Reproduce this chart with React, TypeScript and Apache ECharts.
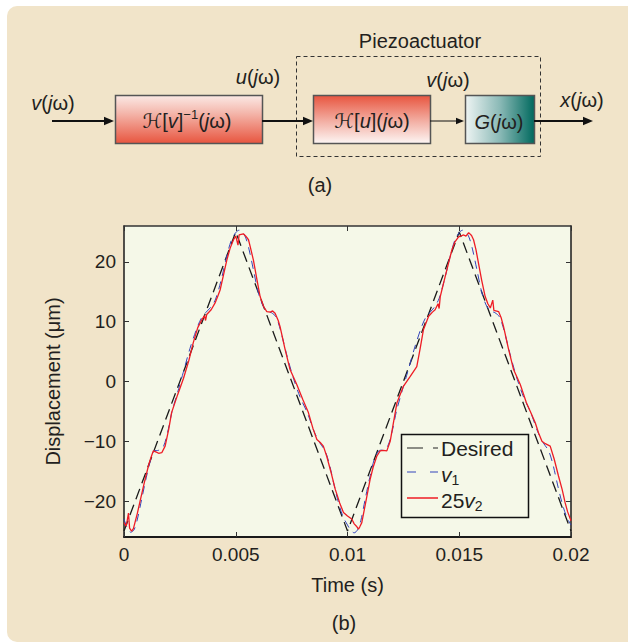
import React, { useEffect, useRef } from "react";
import * as echarts from "echarts";

const FONT = '"Liberation Sans", Arial, Helvetica, sans-serif';
const INK = "#231f20";

// x axis ticks (s)
const xTicks = [0, 0.005, 0.01, 0.015, 0.02];
const yTicks = [-20, -10, 0, 10, 20];

// Desired triangle reference (time in ms, displacement in µm)
const desiredT = [0, 5, 10, 15, 20];
const desiredY = [-25, 25, -25, 25, -25];

// v1 (blue dashed)
const v1T = [0, 0.15, 0.3, 0.45, 0.6, 0.8, 1.0, 1.2, 1.35, 1.55, 1.75, 1.95, 2.15, 2.4, 2.65, 2.95, 3.25, 3.45, 3.65, 3.9, 4.1, 4.35, 4.6, 4.8, 5.0, 5.15, 5.3, 5.45, 5.6, 5.8, 6.0, 6.2, 6.4, 6.6, 6.8, 7.0, 7.3, 7.6, 7.9, 8.2, 8.5, 8.75, 9.0, 9.2, 9.4, 9.6, 9.8, 10.0, 10.15, 10.3, 10.45, 10.6, 10.8, 11.0, 11.2, 11.4, 11.6, 11.8, 12.0, 12.2, 12.45, 12.7, 13.0, 13.3, 13.5, 13.7, 13.9, 14.1, 14.35, 14.6, 14.8, 15.0, 15.15, 15.3, 15.45, 15.6, 15.8, 16.0, 16.2, 16.4, 16.6, 16.8, 17.0, 17.3, 17.6, 17.9, 18.2, 18.5, 18.75, 19.0, 19.2, 19.4, 19.6, 19.8, 20.0];
const v1Y = [-23, -24.5, -25.2, -24.8, -23, -19.5, -16, -13, -11.6, -11.5, -11, -8.5, -5, -1.8, 1.5, 5.5, 8.8, 10.5, 11.5, 12.5, 13.8, 17, 21, 23.6, 24.9, 25.3, 25.0, 24.0, 22, 18.5, 15, 12.8, 11.8, 11.5, 10.8, 8.6, 4.2, 0.3, -2.8, -5.2, -8.3, -10.2, -11.6, -14, -17.3, -20.3, -22.6, -24, -24.9, -25.3, -24.8, -23.2, -19.5, -16, -13, -11.6, -11.4, -10.8, -8.3, -4.8, -1.5, 1.7, 5.6, 9, 10.7, 11.6, 12.5, 13.9, 17.2, 21, 23.6, 24.9, 25.3, 25.0, 24.0, 22, 18.5, 15, 12.8, 11.8, 11.5, 10.8, 8.6, 4.2, 0.3, -2.8, -5.2, -8.3, -10.2, -11.6, -14, -17.3, -20.3, -22.6, -24];

// 25 v2 (red solid)
const v2T = [0, 0.1, 0.2, 0.25, 0.34, 0.42, 0.49, 0.6, 0.75, 0.94, 1.1, 1.2, 1.31, 1.45, 1.55, 1.69, 1.84, 2.0, 2.13, 2.4, 2.66, 2.9, 3.1, 3.3, 3.48, 3.6, 3.65, 3.7, 3.9, 4.07, 4.2, 4.3, 4.45, 4.6, 4.75, 4.9, 5.0, 5.1, 5.15, 5.34, 5.45, 5.57, 5.65, 5.79, 5.95, 6.09, 6.25, 6.39, 6.55, 6.65, 6.76, 6.9, 6.98, 7.2, 7.43, 7.73, 8.0, 8.25, 8.45, 8.63, 8.78, 8.92, 9.07, 9.25, 9.45, 9.65, 9.82, 10.0, 10.19, 10.3, 10.4, 10.49, 10.55, 10.64, 10.8, 11.01, 11.15, 11.31, 11.46, 11.6, 11.76, 11.91, 12.05, 12.21, 12.5, 12.8, 13.1, 13.25, 13.4, 13.63, 13.8, 13.92, 14.05, 14.1, 14.15, 14.4, 14.67, 14.8, 14.97, 15.2, 15.3, 15.42, 15.55, 15.64, 15.75, 15.86, 16.0, 16.16, 16.28, 16.39, 16.5, 16.55, 16.76, 16.88, 16.98, 17.2, 17.43, 17.73, 18.0, 18.2, 18.4, 18.55, 18.7, 18.85, 19.07, 19.25, 19.44, 19.6, 19.74, 19.85, 19.97, 20.0];
const v2Y = [-23.6, -24.2, -22.0, -24.5, -25, -24.6, -23.6, -22, -19.5, -16.4, -14, -12.8, -11.6, -11.8, -12, -11.9, -10.8, -8, -5.2, -2.2, 0.5, 3.5, 6.5, 9, 10.3, 11, 10.2, 11.2, 12, 13.1, 14.3, 15.3, 17.8, 20.3, 22.3, 23.7, 24.3, 22.8, 24.5, 24.7, 24.3, 23.7, 22.5, 20.3, 17, 14.2, 12.5, 11.7, 11.6, 11.8, 11.4, 10.2, 9.2, 5.5, 2.0, -0.5, -3, -5.2, -7.8, -9.7, -10.2, -10.8, -12.5, -15, -18, -20.3, -21.9, -22.5, -23, -23.8, -24.2, -24.7, -24.3, -23.6, -20.5, -16.4, -14.3, -12.5, -11.6, -11.5, -11.6, -10, -7, -3.6, -0.8, 0.8, 2.5, 5.5, 8.7, 10.9, 11.6, 12, 13, 12.2, 14.2, 18, 22, 23.3, 24.2, 24.5, 24.3, 24.9, 24.4, 23.7, 22, 19.8, 17, 14.2, 13, 12.3, 13.6, 11.9, 11.7, 10.6, 9.2, 5.5, 2.0, -0.5, -3.5, -5.2, -6.9, -8.6, -10, -10.4, -10.8, -13, -15.8, -18, -20.3, -21.8, -23, -23.3];

const toPairs = (t: number[], y: number[]) => t.map((v, i) => [v / 1000, y[i]]);

const FS = 20;
const rich = {
  n: { fontFamily: FONT, fontSize: FS, color: INK, lineHeight: 26, verticalAlign: "middle" },
  i: { fontFamily: FONT, fontSize: FS, color: INK, fontStyle: "italic", lineHeight: 26, verticalAlign: "middle" },
  h: { fontFamily: '"DejaVu Serif", "DejaVu Sans", serif', fontSize: FS, color: INK, fontStyle: "italic", lineHeight: 26, verticalAlign: "middle" },
  sup: { fontFamily: FONT, fontSize: 13, color: INK, lineHeight: 26, verticalAlign: "top" },
  sub: { fontFamily: FONT, fontSize: 14, color: INK, lineHeight: 26, verticalAlign: "bottom" },
  ln: { fontFamily: FONT, fontSize: 21, color: INK, lineHeight: 26, verticalAlign: "middle" },
  li: { fontFamily: FONT, fontSize: 21, color: INK, fontStyle: "italic", lineHeight: 26, verticalAlign: "middle" },
};

const txt = (x: number, y: number, text: string, extra: any = {}) => ({
  type: "text",
  x,
  y,
  z: 50,
  style: { text, rich, align: "center", verticalAlign: "middle", font: `${FS}px ${FONT}`, fill: INK, ...extra },
});

const arrow = (x1: number, x2: number, y: number, w: number, head: number) => [
  { type: "line", z: 50, shape: { x1, y1: y, x2: x2 - head + 1, y2: y }, style: { stroke: "#111", lineWidth: w } },
  {
    type: "polygon",
    z: 50,
    shape: { points: [[x2 - head, y - head * 0.42], [x2, y], [x2 - head, y + head * 0.42]] },
    style: { fill: "#111" },
  },
];

export default function App() {
  const ref = useRef<HTMLDivElement>(null);
  useEffect(() => {
    document.body.style.margin = "0";
    const chart = echarts.init(ref.current!, null, { renderer: "svg" });
    const G = echarts.graphic;
    const option: any = {
      animation: false,
      backgroundColor: "#ffffff",
      grid: {
        left: 124,
        top: 226,
        right: 57,
        bottom: 106,
        show: true,
        backgroundColor: "#f5f8e8",
        borderWidth: 0,
      },
      xAxis: [
        {
          type: "value",
          min: 0,
          max: 0.02,
          interval: 0.005,
          position: "bottom",
          axisLine: { show: true, onZero: false, lineStyle: { color: "#1a1a1a", width: 2 } },
          axisTick: { show: true, inside: true, length: 5, lineStyle: { color: "#333" } },
          axisLabel: {
            color: INK,
            fontSize: 19,
            fontFamily: FONT,
            margin: 8,
            formatter: (v: number) => String(+v.toFixed(3)),
          },
          splitLine: { show: false },
          name: "Time (s)",
          nameLocation: "middle",
          nameGap: 38,
          nameTextStyle: { color: INK, fontSize: 20, fontFamily: FONT },
        },
        {
          type: "value",
          min: 0,
          max: 0.02,
          interval: 0.005,
          position: "top",
          axisLine: { show: true, onZero: false, lineStyle: { color: "#333", width: 1.5 } },
          axisTick: { show: true, inside: true, length: 5, lineStyle: { color: "#333" } },
          axisLabel: { show: false },
          splitLine: { show: false },
        },
      ],
      yAxis: [
        {
          type: "value",
          min: -26,
          max: 26,
          position: "left",
          axisLine: { show: true, onZero: false, lineStyle: { color: "#1a1a1a", width: 1.5 } },
          axisTick: { show: true, inside: true, length: 5, customValues: yTicks, lineStyle: { color: "#333" } },
          axisLabel: {
            color: INK,
            fontSize: 19,
            fontFamily: FONT,
            margin: 8,
            customValues: yTicks,
            formatter: (v: number) => String(v).replace("-", "\u2212"),
          },
          splitLine: { show: false },
          name: "Displacement (\u03bcm)",
          nameLocation: "middle",
          nameGap: 61,
          nameTextStyle: { color: INK, fontSize: 20, fontFamily: FONT },
        },
        {
          type: "value",
          min: -26,
          max: 26,
          position: "right",
          axisLine: { show: true, onZero: false, lineStyle: { color: "#1a1a1a", width: 1.5 } },
          axisTick: { show: true, inside: true, length: 5, customValues: yTicks, lineStyle: { color: "#333" } },
          axisLabel: { show: false, customValues: yTicks },
          splitLine: { show: false },
        },
      ],
      series: [
        {
          name: "Desired",
          type: "line",
          data: toPairs(desiredT, desiredY),
          symbol: "none",
          lineStyle: { color: "#1a1a1a", width: 1.3, type: [11, 6] },
          z: 3,
        },
        {
          name: "v1",
          type: "line",
          data: toPairs(v1T, v1Y),
          symbol: "none",
          smooth: 0.3,
          lineStyle: { color: "#3344bb", width: 1, type: [8, 6] },
          z: 4,
        },
        {
          name: "25v2",
          type: "line",
          data: toPairs(v2T, v2Y),
          symbol: "none",
          lineStyle: { color: "#ee1c25", width: 1.3 },
          z: 5,
        },
      ],
      graphic: [
        {
          type: "rect",
          z: -100,
          shape: { x: 7, y: 6, width: 660, height: 636, r: 10 },
          style: { fill: "#f1e4c9" },
        },
        // block diagram
        txt(420, 41, "Piezoactuator"),
        {
          type: "rect",
          z: 40,
          shape: { x: 296.5, y: 56.5, width: 244, height: 100 },
          style: { fill: "none", stroke: "#333", lineWidth: 1, lineDash: [4, 3] },
        },
        {
          type: "rect",
          z: 45,
          shape: { x: 115.5, y: 95.5, width: 147, height: 48 },
          style: {
            fill: new G.LinearGradient(0, 0, 0, 1, [
              { offset: 0, color: "#fbe9e5" },
              { offset: 0.35, color: "#f4b9ae" },
              { offset: 1, color: "#e8553f" },
            ]),
            stroke: "#555",
            lineWidth: 1.5,
          },
        },
        {
          type: "rect",
          z: 45,
          shape: { x: 313.5, y: 95.5, width: 117, height: 48 },
          style: {
            fill: new G.LinearGradient(0, 0, 0, 1, [
              { offset: 0, color: "#e8553f" },
              { offset: 0.55, color: "#f3b1a6" },
              { offset: 1, color: "#fdf6f4" },
            ]),
            stroke: "#555",
            lineWidth: 1.5,
          },
        },
        {
          type: "rect",
          z: 45,
          shape: { x: 465.5, y: 95.5, width: 69, height: 48 },
          style: {
            fill: new G.LinearGradient(0, 0, 1, 0, [
              { offset: 0, color: "#eef4f3" },
              { offset: 0.5, color: "#8ab9b6" },
              { offset: 1, color: "#00695e" },
            ]),
            stroke: "#555",
            lineWidth: 1.5,
          },
        },
        ...arrow(52, 114, 121, 2, 10),
        ...arrow(262, 313, 121, 2, 10),
        ...arrow(430, 464, 121, 1, 8),
        ...arrow(534, 593, 121, 2, 10),
        txt(53, 103, "{i|v}{n|(}{i|j}{n|\u03c9)}"),
        txt(258, 77, "{i|u}{n|(}{i|j}{n|\u03c9)}"),
        txt(448, 80, "{i|v}{n|(}{i|j}{n|\u03c9)}"),
        txt(582, 100, "{i|x}{n|(}{i|j}{n|\u03c9)}"),
        txt(187, 121, "{h|\u210b}{n|[}{i|v}{n|]}{sup|\u22121}{n|(}{i|j}{n|\u03c9)}"),
        txt(372, 121, "{h|\u210b}{n|[}{i|u}{n|](}{i|j}{n|\u03c9)}"),
        txt(499, 122, "{i|G}{n|(}{i|j}{n|\u03c9)}"),
        txt(320, 185, "(a)"),
        txt(344, 623, "(b)"),
        // legend
        {
          type: "rect",
          z: 60,
          shape: { x: 401.5, y: 434.5, width: 127, height: 83 },
          style: { fill: "#f5f8e8", stroke: "#111", lineWidth: 1.5 },
        },
        {
          type: "line",
          z: 61,
          shape: { x1: 407, y1: 448, x2: 438, y2: 448 },
          style: { stroke: "#222", lineWidth: 1.2, lineDash: [16, 10] },
        },
        {
          type: "line",
          z: 61,
          shape: { x1: 407, y1: 472, x2: 438, y2: 472 },
          style: { stroke: "#3344bb", lineWidth: 1, lineDash: [9, 14] },
        },
        {
          type: "line",
          z: 61,
          shape: { x1: 407, y1: 498, x2: 438, y2: 498 },
          style: { stroke: "#ee1c25", lineWidth: 1.5 },
        },
        { ...txt(441, 448, "{ln|Desired}", { align: "left" }), z: 62 },
        { ...txt(441, 474, "{li|v}{sub|1}", { align: "left" }), z: 62 },
        { ...txt(441, 500, "{ln|25}{li|v}{sub|2}", { align: "left" }), z: 62 },
      ],
    };
    chart.setOption(option);
    return () => chart.dispose();
  }, []);
  return <div ref={ref} style={{ width: 628, height: 643 }} />;
}
